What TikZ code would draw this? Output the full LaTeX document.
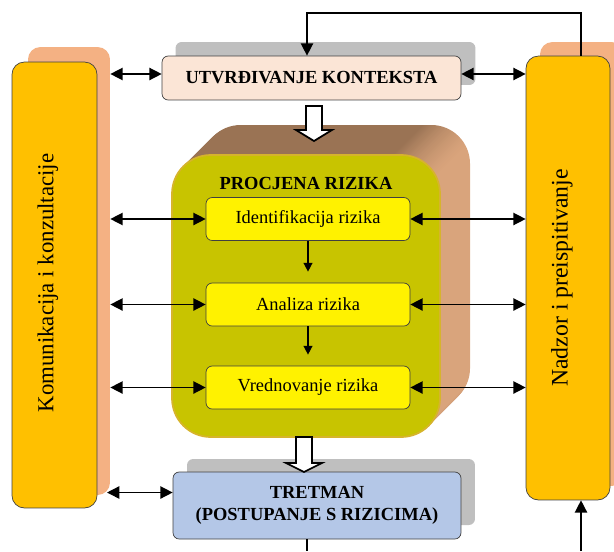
\documentclass[tikz,border=0pt]{standalone}
\usepackage{fontspec}
\setmainfont{Liberation Serif}
\usepackage{tikz}
\usetikzlibrary{arrows.meta,calc}
\definecolor{okvir}{HTML}{FFC000}
\definecolor{sjena}{HTML}{F4B183}
\definecolor{kontekst}{HTML}{FBE5D6}
\definecolor{siva}{HTML}{BFBFBF}
\definecolor{plava}{HTML}{B4C7E7}
\definecolor{maslina}{HTML}{C8C400}
\definecolor{zlatna}{HTML}{D6B42C}
\definecolor{smeda}{HTML}{9A7354}
\definecolor{pjesak}{HTML}{D9A47C}
\pgfdeclarehorizontalshading{bok}{100bp}{color(0bp)=(smeda); color(66bp)=(smeda); color(74bp)=(pjesak); color(100bp)=(pjesak)}

\begin{document}
\begin{tikzpicture}
  [x=0.02cm,y=-0.02cm,>={Triangle[length=7pt,width=7pt]},
   box/.style={draw=black!75,rounded corners=3.5pt,inner sep=0pt,
     font=\fontsize{10.5}{12.5}\selectfont},
   sidebox/.style={draw=black!75,fill=okvir,rounded corners=7pt},
   sidesh/.style={fill=sjena,rounded corners=7pt},
   pad/.style={fill=siva,rounded corners=3.5pt},
   veza/.style={<->,line width=0.8pt},
   tanka/.style={line width=0.8pt},
   blok/.style={draw,fill=white,line width=1pt}]
\useasboundingbox (0,0) rectangle (614,551);
% side boxes
\node[sidesh,minimum width=1.64cm,minimum height=8.96cm] (komsh) at (69,271) {};
\node[sidebox,minimum width=1.7cm,minimum height=8.92cm] (kom) at (54.5,285) {};
\node[rotate=90,font=\fontsize{13}{15}\selectfont] (komtxt) at (48,283)
  {Komunikacija i konzultacije};
\node[sidesh,minimum width=1.68cm,minimum height=8.88cm] (nadsh) at (582,264) {};
\node[sidebox,minimum width=1.68cm,minimum height=8.88cm] (nad) at (568,278) {};
\node[rotate=90,font=\fontsize{13.5}{15}\selectfont] (nadtxt) at (562,278)
  {Nadzor i preispitivanje};
% context
\node[pad,minimum width=6cm,minimum height=0.86cm] (ctxsh) at (325.5,63.5) {};
\node[box,fill=kontekst,minimum width=5.98cm,minimum height=0.88cm] (ctx)
  at (311.5,78) {\textbf{UTVRĐIVANJE KONTEKSTA}};
% risk assessment block
\foreach \i in {30,29,...,1}
  \shade[shading=bok,rounded corners=22pt] (172+\i,155-\i) rectangle (440+\i,437-\i);
\node[fill=maslina,draw=zlatna,line width=1pt,rounded corners=22pt,
  minimum width=5.36cm,minimum height=5.64cm] (proc) at (306,296) {};
\node[font=\bfseries\fontsize{10.5}{12}\selectfont] (proctit) at (306,183)
  {PROCJENA RIZIKA};
\foreach \ime/\y/\tekst in {ident/219/Identifikacija rizika,
    anal/304.5/Analiza rizika,vred/387.5/Vrednovanje rizika}
  \node[box,fill=yellow,minimum width=4.08cm,minimum height=0.86cm] (\ime)
    at (308,\y) {\tekst};
\draw[->,tanka,>={Triangle[length=5pt,width=5pt]},shorten >=0.22cm]
  (ident) -- (anal);
\draw[->,tanka,>={Triangle[length=5pt,width=5pt]},shorten >=0.22cm]
  (anal) -- (vred);
% treatment
\node[pad,minimum width=5.76cm,minimum height=1.32cm] (tretsh) at (331,492) {};
\node[box,fill=plava,align=center,minimum width=5.76cm,minimum height=1.34cm,
  font=\bfseries\fontsize{10.5}{12.5}\selectfont] (tret) at (317,505.5)
  {TRETMAN\\(POSTUPANJE S RIZICIMA)};
% block arrows
\foreach \cx/\ty/\hy/\by in {314/106/130/141,304/437/463/472}
  \draw[blok] (\cx-8,\ty) -- (\cx+8,\ty) -- (\cx+8,\hy) -- (\cx+18,\hy)
    -- (\cx,\by) -- (\cx-18,\hy) -- (\cx-8,\hy) -- cycle;
% connectors
\coordinate (ctxl) at ($(ctx.west)+(0,-4)$);
\coordinate (ctxd) at ($(ctx.east)+(0,-4)$);
\draw[veza] (komsh.east |- ctxl) -- (ctxl);
\draw[veza] (ctxd) -- (nad.west |- ctxd);
\foreach \ime in {ident,anal,vred} {
  \draw[veza] (komsh.east |- \ime.west) -- (\ime.west);
  \draw[veza] (\ime.east) -- (nad.west |- \ime.east);
}
\coordinate (tretl) at ($(tret.west)+(0,-13)$);
\draw[veza] (107,0 |- tretl) -- (tretl);
\coordinate (povrat) at (0,13);
\coordinate (nadgore) at ([xshift=0.26cm]nad.north);
\coordinate (ctxgore) at ([xshift=-0.09cm]ctx.north);
\draw[->,tanka] (nadgore) |- (povrat -| ctxgore) -- (ctxgore);
\coordinate (dno) at (0,551);
\coordinate (tretdno) at ([xshift=-0.2cm]tret.south);
\coordinate (naddno) at ([xshift=0.26cm]nad.south);
\draw[tanka] (tretdno) -- (tretdno |- dno);
\draw[->,tanka] (naddno |- dno) -- (naddno);
\end{tikzpicture}
\end{document}
